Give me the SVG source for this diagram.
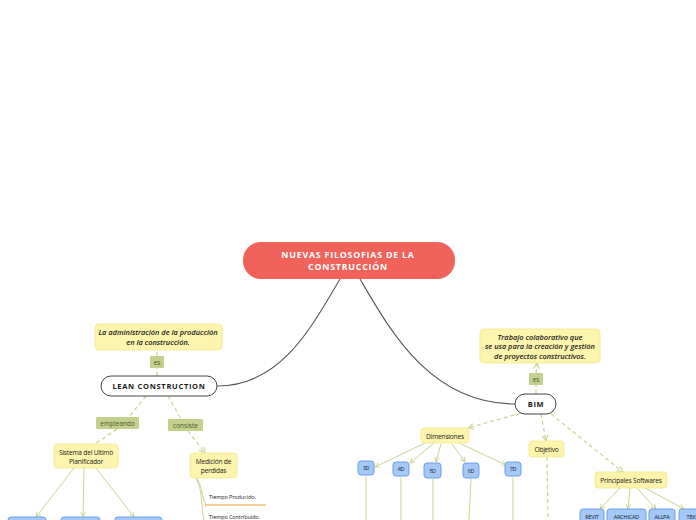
<svg xmlns="http://www.w3.org/2000/svg" width="696" height="520" viewBox="0 0 696 520">
<defs>
<marker id="ah" viewBox="0 0 10 10" refX="9" refY="5" markerWidth="6" markerHeight="6" orient="auto"><path d="M1,1 L9,5 L1,9" fill="none" stroke="#c5d48c" stroke-width="1.5"/></marker>
<style>
text{font-family:"Open Sans","Liberation Sans",sans-serif;fill:#1a1a1a;text-anchor:middle}
.main rect{fill:#f1635a}
.main text{fill:#fff;font-weight:bold;font-size:8.8px;letter-spacing:0.8px}
.topic rect{fill:#fff;stroke:#444;stroke-width:1}
.topic text{font-weight:bold;font-size:7.5px;letter-spacing:0.7px}
.note rect,.yel rect{fill:#fdf4ae;stroke:#f4e88c;stroke-width:0.8}
.note text{font-style:italic;font-size:7.4px;font-weight:600}
.yel text{font-size:6.6px;letter-spacing:-0.2px;font-weight:500}
.lbl rect{fill:#c4d08e}
.lbl text{font-size:6.5px;fill:#4c5a30}
.blue rect{fill:#a4c8f8;stroke:#6b9fe9;stroke-width:1}
.blue text{font-size:5.5px;letter-spacing:-0.2px;font-weight:500}
.leaf text{font-size:5.5px;text-anchor:start;letter-spacing:-0.1px}
.dash{fill:none;stroke:#c7d68f;stroke-width:1.2;stroke-dasharray:4,3}
.sol{fill:none;stroke:#c7d68f;stroke-width:1}
.dark{fill:none;stroke:#555;stroke-width:1.1}
</style>
</defs>
<g id="connectors">
<path class="dark" d="M340,279 C310,330 280,386 217,386"/>
<path class="dark" d="M360,279 C390,330 430,404 515,404"/>
<path class="dash" d="M157,376 L157,368"/>
<path class="dash" d="M157,356 L157,350"/>
<path class="dash" d="M536,394 L536,385"/>
<path class="dash" d="M536,373 L537,363" marker-end="url(#ah)"/>
<path class="dash" d="M146,396 L128,418"/>
<path class="dash" d="M117,429 L95,444"/>
<path class="dash" d="M168,396 L181,419"/>
<path class="dash" d="M188,431 L205,453" marker-end="url(#ah)"/>
<path class="sol" d="M74,468 L36,517" marker-end="url(#ah)"/>
<path class="sol" d="M84,468 L83,517" marker-end="url(#ah)"/>
<path class="sol" d="M96,468 L134,517" marker-end="url(#ah)"/>
<path class="sol" d="M196,478 C202,483 202,500 206,505"/>
<path class="sol" d="M196,478 C203,490 201,510 204,520"/>
<path stroke="#f0a030" stroke-width="1.2" d="M205,505 L266,505"/>
<path class="dash" d="M521,413 L468,428" marker-end="url(#ah)"/>
<path class="dash" d="M541,414 L546,441" marker-end="url(#ah)"/>
<path class="dash" d="M551,414 L623,472" marker-end="url(#ah)"/>
<path class="dash" d="M547,457 L548,520"/>
<path class="sol" d="M425,443 L375,467" marker-end="url(#ah)"/>
<path class="sol" d="M434,443 L410,463" marker-end="url(#ah)"/>
<path class="sol" d="M441,444 L436,462" marker-end="url(#ah)"/>
<path class="sol" d="M452,444 L465,462" marker-end="url(#ah)"/>
<path class="sol" d="M459,443 L506,465" marker-end="url(#ah)"/>
<path class="sol" d="M366,476 L366,520"/>
<path class="sol" d="M401,477 L401,520"/>
<path class="sol" d="M433,479 L433,520"/>
<path class="sol" d="M471,479 L469,520"/>
<path class="sol" d="M513,477 L513,520"/>
<path class="sol" d="M620,488 L600,509" marker-end="url(#ah)"/>
<path class="sol" d="M630,488 L628,509" marker-end="url(#ah)"/>
<path class="sol" d="M637,488 L656,509" marker-end="url(#ah)"/>
<path class="sol" d="M645,488 L684,509" marker-end="url(#ah)"/>
</g>
<g id="main" class="main"><rect x="243" y="242" width="212" height="37" rx="18"/><text x="348" y="257.5">NUEVAS FILOSOFIAS DE LA</text><text x="348" y="270">CONSTRUCCIÓN</text></g>
<g id="lean" class="topic"><rect x="101" y="376" width="116" height="20" rx="10"/><text x="159" y="389">LEAN CONSTRUCTION</text></g>
<g id="lean-note" class="note"><rect x="95" y="324" width="127" height="26" rx="4"/><text x="158" y="335">La administración de la producción</text><text x="158" y="345">en la construcción.</text></g>
<g id="lbl-es1" class="lbl"><rect x="150" y="356" width="14" height="12" rx="1"/><text x="157" y="365">es</text></g>
<g id="bim" class="topic"><rect x="515" y="394" width="41" height="20" rx="10"/><text x="536" y="407">BIM</text></g>
<g id="bim-note" class="note"><rect x="480" y="329" width="120" height="34" rx="4"/><text x="540" y="340">Trabajo colaborativo que</text><text x="540" y="349">se usa para la creación y gestión</text><text x="540" y="359">de proyectos constructivos.</text></g>
<g id="lbl-es2" class="lbl"><rect x="529" y="373" width="14" height="12" rx="1"/><text x="536" y="382">es</text></g>
<g id="lbl-empleando" class="lbl"><rect x="96" y="417" width="43" height="12" rx="1"/><text x="117.5" y="426">empleando</text></g>
<g id="lbl-consiste" class="lbl"><rect x="168" y="419" width="35" height="12" rx="1"/><text x="185.5" y="428">consiste</text></g>
<g id="sistema" class="yel"><rect x="54" y="444" width="64" height="24" rx="4"/><text x="86" y="455">Sistema del Ultimo</text><text x="86" y="464">Planificador</text></g>
<g id="medicion" class="yel"><rect x="190" y="453" width="47" height="25" rx="4"/><text x="213.5" y="464">Medición de</text><text x="213.5" y="473">perdidas</text></g>
<g id="tp" class="leaf"><text x="209" y="499">Tiempo Producido.</text></g>
<g id="tc" class="leaf"><text x="209" y="519">Tiempo Contribuido.</text></g>
<g id="b1" class="blue"><rect x="8" y="517" width="38" height="12" rx="3"/></g>
<g id="b2" class="blue"><rect x="61" y="517" width="39" height="12" rx="3"/></g>
<g id="b3" class="blue"><rect x="115" y="517" width="47" height="12" rx="3"/></g>
<g id="dimensiones" class="yel"><rect x="421" y="428" width="48" height="15" rx="3"/><text x="445" y="438.5">Dimensiones</text></g>
<g id="objetivo" class="yel"><rect x="529" y="441" width="35" height="16" rx="3"/><text x="546.5" y="451.5">Objetivo</text></g>
<g id="softwares" class="yel"><rect x="595" y="472" width="72" height="16" rx="3"/><text x="631" y="482.5">Principales Softwares</text></g>
<g id="d3" class="blue"><rect x="358" y="461" width="16" height="14" rx="3"/><text x="366" y="470">3D</text></g>
<g id="d4" class="blue"><rect x="393" y="462" width="16" height="14" rx="3"/><text x="401" y="471">4D</text></g>
<g id="d5" class="blue"><rect x="424" y="463" width="17" height="15" rx="3"/><text x="432.5" y="473">5D</text></g>
<g id="d6" class="blue"><rect x="463" y="463" width="16" height="15" rx="3"/><text x="471" y="473">6D</text></g>
<g id="d7" class="blue"><rect x="505" y="462" width="16" height="14" rx="3"/><text x="513" y="471">7D</text></g>
<g id="revit" class="blue"><rect x="580" y="509" width="24" height="14" rx="3"/><text x="592" y="518.5">REVIT</text></g>
<g id="archicad" class="blue"><rect x="607" y="509" width="39" height="14" rx="3"/><text x="626.5" y="518.5">ARCHICAD</text></g>
<g id="allpa" class="blue"><rect x="649" y="509" width="26" height="14" rx="3"/><text x="662" y="518.5">ALLPA</text></g>
<g id="tekla" class="blue"><rect x="679" y="509" width="30" height="14" rx="3"/><text x="694" y="518.5">TEKLA</text></g>
</svg>
